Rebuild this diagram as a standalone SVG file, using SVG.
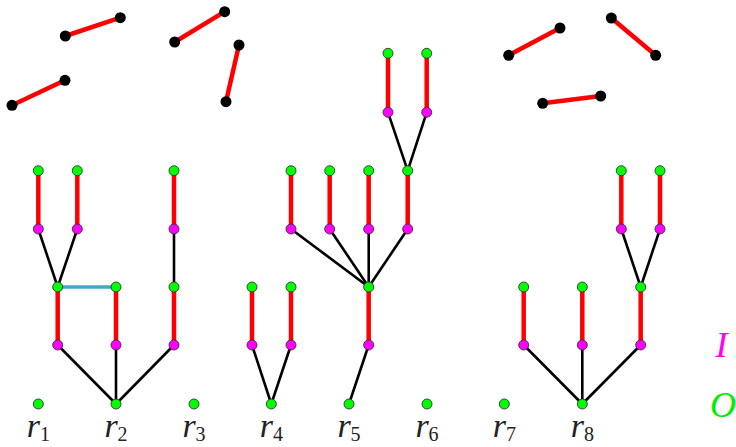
<svg xmlns="http://www.w3.org/2000/svg" width="736" height="447" viewBox="0 0 736 447">
<style>
.red{stroke:#ff0000;stroke-width:4.5;fill:none}
.blk{stroke:#000;stroke-width:2.6;fill:none}
.blue{stroke:#44a8c8;stroke-width:3.5;fill:none}
.g{fill:#00ff00;stroke:#333;stroke-width:0.9}
.m{fill:#ff00ff;stroke:#333;stroke-width:0.9}
.d{fill:#000}
.lbl{font-family:"Liberation Serif",serif;font-size:34px;fill:#222}
.lbl .i{font-style:italic}
.sub{font-size:20px;font-style:normal}
</style>
<g id="connectors">
<line class="red" x1="65.3" y1="36" x2="120.3" y2="17.7"/>
<line class="red" x1="12" y1="105.3" x2="65" y2="80.3"/>
<line class="red" x1="174.7" y1="42" x2="224.7" y2="11.7"/>
<line class="red" x1="239" y1="45" x2="226" y2="101.7"/>
<line class="red" x1="508.7" y1="55.3" x2="560" y2="28"/>
<line class="red" x1="611.3" y1="18" x2="655.7" y2="55.3"/>
<line class="red" x1="542.7" y1="103.3" x2="600.7" y2="96"/>
<line class="blk" x1="116" y1="404" x2="57.7" y2="345"/>
<line class="blk" x1="116" y1="404" x2="116" y2="345"/>
<line class="blk" x1="116" y1="404" x2="174" y2="345"/>
<line class="red" x1="57.7" y1="345" x2="57.7" y2="287"/>
<line class="red" x1="116" y1="345" x2="116" y2="287"/>
<line class="red" x1="174" y1="345" x2="174" y2="287"/>
<line class="blue" x1="57.7" y1="287" x2="116" y2="287"/>
<line class="blk" x1="57.7" y1="287" x2="38.3" y2="229"/>
<line class="blk" x1="57.7" y1="287" x2="77.3" y2="229"/>
<line class="red" x1="38.3" y1="229" x2="38.3" y2="170.7"/>
<line class="red" x1="77.3" y1="229" x2="77.3" y2="170.7"/>
<line class="blk" x1="174" y1="287" x2="174" y2="229"/>
<line class="red" x1="174" y1="229" x2="174" y2="170.7"/>
<line class="blk" x1="271.3" y1="404" x2="252" y2="345"/>
<line class="blk" x1="271.3" y1="404" x2="291" y2="345"/>
<line class="red" x1="252" y1="345" x2="252" y2="287"/>
<line class="red" x1="291" y1="345" x2="291" y2="287"/>
<line class="blk" x1="349" y1="404" x2="368.7" y2="345"/>
<line class="red" x1="368.7" y1="345" x2="368.7" y2="287"/>
<line class="blk" x1="368.7" y1="287" x2="291" y2="229"/>
<line class="blk" x1="368.7" y1="287" x2="329.7" y2="229"/>
<line class="blk" x1="368.7" y1="287" x2="368.7" y2="229"/>
<line class="blk" x1="368.7" y1="287" x2="407.7" y2="229"/>
<line class="red" x1="291" y1="229" x2="291" y2="170.7"/>
<line class="red" x1="329.7" y1="229" x2="329.7" y2="170.7"/>
<line class="red" x1="368.7" y1="229" x2="368.7" y2="170.7"/>
<line class="red" x1="407.7" y1="229" x2="407.7" y2="170.7"/>
<line class="blk" x1="407.7" y1="170.7" x2="388" y2="112.3"/>
<line class="blk" x1="407.7" y1="170.7" x2="426.7" y2="112.3"/>
<line class="red" x1="388" y1="112.3" x2="388" y2="53.3"/>
<line class="red" x1="426.7" y1="112.3" x2="426.7" y2="53.3"/>
<line class="blk" x1="582.3" y1="404" x2="523.7" y2="345"/>
<line class="blk" x1="582.3" y1="404" x2="582.3" y2="345"/>
<line class="blk" x1="582.3" y1="404" x2="640.7" y2="345"/>
<line class="red" x1="523.7" y1="345" x2="523.7" y2="287"/>
<line class="red" x1="582.3" y1="345" x2="582.3" y2="287"/>
<line class="red" x1="640.7" y1="345" x2="640.7" y2="287"/>
<line class="blk" x1="640.7" y1="287" x2="621.3" y2="229"/>
<line class="blk" x1="640.7" y1="287" x2="660" y2="229"/>
<line class="red" x1="621.3" y1="229" x2="621.3" y2="170.7"/>
<line class="red" x1="660" y1="229" x2="660" y2="170.7"/>
</g>
<g id="free-points">
<circle class="d" cx="65.3" cy="36" r="5.5"/><circle class="d" cx="120.3" cy="17.7" r="5.5"/>
<circle class="d" cx="12" cy="105.3" r="5.5"/><circle class="d" cx="65" cy="80.3" r="5.5"/>
<circle class="d" cx="174.7" cy="42" r="5.5"/><circle class="d" cx="224.7" cy="11.7" r="5.5"/>
<circle class="d" cx="239" cy="45" r="5.5"/><circle class="d" cx="226" cy="101.7" r="5.5"/>
<circle class="d" cx="508.7" cy="55.3" r="5.5"/><circle class="d" cx="560" cy="28" r="5.5"/>
<circle class="d" cx="611.3" cy="18" r="5.5"/><circle class="d" cx="655.7" cy="55.3" r="5.5"/>
<circle class="d" cx="542.7" cy="103.3" r="5.5"/><circle class="d" cx="600.7" cy="96" r="5.5"/>
</g>
<g id="tree-r1"><circle class="g" cx="38.3" cy="404" r="5"/></g>
<g id="tree-r2">
<circle class="g" cx="116" cy="404" r="5"/>
<circle class="m" cx="57.7" cy="345" r="5"/><circle class="m" cx="116" cy="345" r="5"/><circle class="m" cx="174" cy="345" r="5"/>
<circle class="g" cx="57.7" cy="287" r="5"/><circle class="g" cx="116" cy="287" r="5"/><circle class="g" cx="174" cy="287" r="5"/>
<circle class="m" cx="38.3" cy="229" r="5"/><circle class="m" cx="77.3" cy="229" r="5"/><circle class="m" cx="174" cy="229" r="5"/>
<circle class="g" cx="38.3" cy="170.7" r="5"/><circle class="g" cx="77.3" cy="170.7" r="5"/><circle class="g" cx="174" cy="170.7" r="5"/>
</g>
<g id="tree-r3"><circle class="g" cx="194" cy="404" r="5"/></g>
<g id="tree-r4">
<circle class="g" cx="271.3" cy="404" r="5"/>
<circle class="m" cx="252" cy="345" r="5"/><circle class="m" cx="291" cy="345" r="5"/>
<circle class="g" cx="252" cy="287" r="5"/><circle class="g" cx="291" cy="287" r="5"/>
</g>
<g id="tree-r5">
<circle class="g" cx="349" cy="404" r="5"/>
<circle class="m" cx="368.7" cy="345" r="5"/>
<circle class="g" cx="368.7" cy="287" r="5"/>
<circle class="m" cx="291" cy="229" r="5"/><circle class="m" cx="329.7" cy="229" r="5"/><circle class="m" cx="368.7" cy="229" r="5"/><circle class="m" cx="407.7" cy="229" r="5"/>
<circle class="g" cx="291" cy="170.7" r="5"/><circle class="g" cx="329.7" cy="170.7" r="5"/><circle class="g" cx="368.7" cy="170.7" r="5"/><circle class="g" cx="407.7" cy="170.7" r="5"/>
<circle class="m" cx="388" cy="112.3" r="5"/><circle class="m" cx="426.7" cy="112.3" r="5"/>
<circle class="g" cx="388" cy="53.3" r="5"/><circle class="g" cx="426.7" cy="53.3" r="5"/>
</g>
<g id="tree-r6"><circle class="g" cx="427" cy="404" r="5"/></g>
<g id="tree-r7"><circle class="g" cx="504.3" cy="404" r="5"/></g>
<g id="tree-r8">
<circle class="g" cx="582.3" cy="404" r="5"/>
<circle class="m" cx="523.7" cy="345" r="5"/><circle class="m" cx="582.3" cy="345" r="5"/><circle class="m" cx="640.7" cy="345" r="5"/>
<circle class="g" cx="523.7" cy="287" r="5"/><circle class="g" cx="582.3" cy="287" r="5"/><circle class="g" cx="640.7" cy="287" r="5"/>
<circle class="m" cx="621.3" cy="229" r="5"/><circle class="m" cx="660" cy="229" r="5"/>
<circle class="g" cx="621.3" cy="170.7" r="5"/><circle class="g" cx="660" cy="170.7" r="5"/>
</g>
<g id="labels" class="lbl">
<text x="38.3" y="437" text-anchor="middle"><tspan class="i">r</tspan><tspan class="sub" dy="4">1</tspan></text>
<text x="116" y="437" text-anchor="middle"><tspan class="i">r</tspan><tspan class="sub" dy="4">2</tspan></text>
<text x="194" y="437" text-anchor="middle"><tspan class="i">r</tspan><tspan class="sub" dy="4">3</tspan></text>
<text x="271.3" y="437" text-anchor="middle"><tspan class="i">r</tspan><tspan class="sub" dy="4">4</tspan></text>
<text x="349" y="437" text-anchor="middle"><tspan class="i">r</tspan><tspan class="sub" dy="4">5</tspan></text>
<text x="427" y="437" text-anchor="middle"><tspan class="i">r</tspan><tspan class="sub" dy="4">6</tspan></text>
<text x="504.3" y="437" text-anchor="middle"><tspan class="i">r</tspan><tspan class="sub" dy="4">7</tspan></text>
<text x="582.3" y="437" text-anchor="middle"><tspan class="i">r</tspan><tspan class="sub" dy="4">8</tspan></text>
<text x="721.5" y="357.3" text-anchor="middle" style="font-style:italic;font-size:36px;fill:#ff00ff">I</text>
<text x="723" y="417.3" text-anchor="middle" style="font-style:italic;font-size:36px;fill:#00ee00">O</text>
</g>
</svg>
